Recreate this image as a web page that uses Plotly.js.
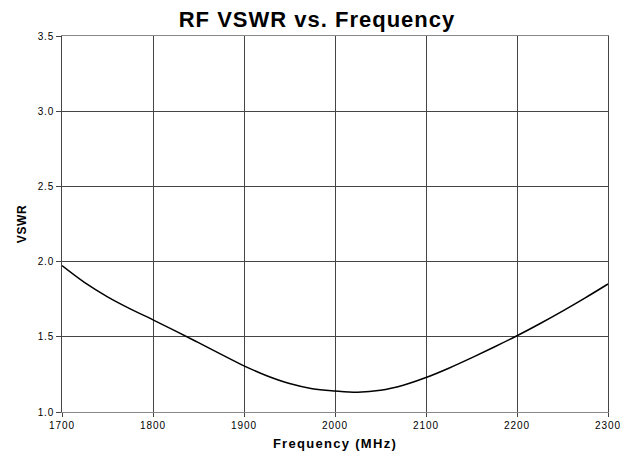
<!DOCTYPE html>
<html>
<head>
<meta charset="utf-8">
<script src="https://cdn.plot.ly/plotly-3.0.1.min.js"></script>
<style>
html,body{margin:0;padding:0;background:#fff;}
#chart{width:634px;height:457px;}
#chart .gtitle{letter-spacing:1px;}
#chart .xtitle{letter-spacing:1.3px;}
#chart .ytitle{letter-spacing:0.6px;}
#chart .xtick text{letter-spacing:1px;}
#chart .ytick text{letter-spacing:0.8px;}
</style>
</head>
<body>
<div id="chart"></div>
<script>
const frequency = [1700,1725,1750,1775,1800,1825,1850,1875,1900,1925,1950,1975,2000,2025,2050,2075,2100,2125,2150,2175,2200,2225,2250,2275,2300];
const vswr = [1.973,1.86,1.766,1.686,1.613,1.538,1.461,1.383,1.307,1.241,1.189,1.155,1.14,1.132,1.144,1.178,1.229,1.291,1.36,1.432,1.507,1.587,1.671,1.759,1.851];
const xTicks = [1700,1800,1900,2000,2100,2200,2300];
const yTicks = [1.0,1.5,2.0,2.5,3.0,3.5];

const FONT = 'Liberation Sans, Arial, sans-serif';
const trace = {
  x: frequency, y: vswr, type: 'scatter', mode: 'lines',
  line: {color: '#000', width: 1.5, shape: 'spline', smoothing: 1},
  hoverinfo: 'skip'
};
const layout = {
  width: 634, height: 457,
  margin: {l: 62, r: 26, t: 36, b: 45},
  paper_bgcolor: '#fff', plot_bgcolor: '#fff',
  showlegend: false,
  title: {text: 'RF VSWR vs. Frequency', x: 0.5, xanchor: 'center', y: 0.957, yanchor: 'middle',
          font: {family: FONT, size: 22, color: '#000', weight: 'bold'}},
  xaxis: {
    range: [1700, 2300], tickvals: xTicks, ticktext: xTicks.map(String),
    showgrid: true, gridcolor: '#444', gridwidth: 1,
    showline: true, linecolor: '#888', linewidth: 1, mirror: true,
    ticks: 'outside', ticklen: 4, tickcolor: '#444',
    zeroline: false,
    tickfont: {family: FONT, size: 10, color: '#000'},
    title: {text: 'Frequency (MHz)', standoff: 8,
            font: {family: FONT, size: 13, color: '#000', weight: 'bold'}}
  },
  yaxis: {
    range: [1.0, 3.5], tickvals: yTicks, ticktext: yTicks.map(v => v.toFixed(1)),
    showgrid: true, gridcolor: '#444', gridwidth: 1,
    showline: true, linecolor: '#444', linewidth: 1, mirror: true,
    ticks: 'outside', ticklen: 5, tickcolor: '#444',
    zeroline: false,
    tickfont: {family: FONT, size: 10, color: '#000'},
    title: {text: 'VSWR', standoff: 10,
            font: {family: FONT, size: 12, color: '#000', weight: 'bold'}}
  }
};
Plotly.newPlot('chart', [trace], layout, {displayModeBar: false, staticPlot: true});
</script>
</body>
</html>
